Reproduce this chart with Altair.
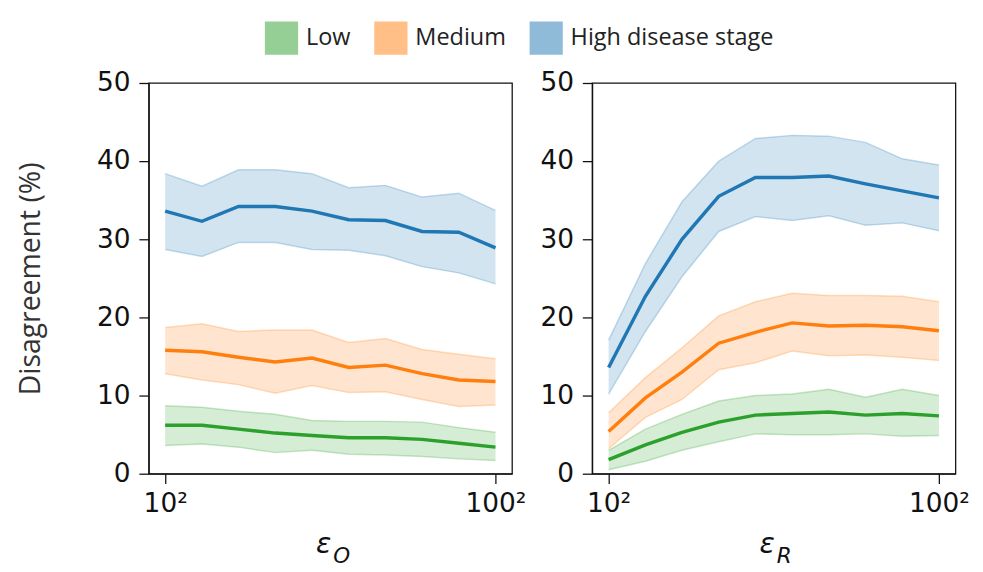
import altair as alt
import pandas as pd

# x positions (epsilon values, log-spaced from 10^2 to 100^2)
eps = [100, 167, 278, 464, 774, 1292, 2154, 3594, 5995, 10000]
stages = ["Low", "Medium", "High disease stage"]
colors = ["#2ca02c", "#ff7f0e", "#1f77b4"]

# Panel epsilon_O
low_mean_O = [6.2, 6.2, 5.7, 5.2, 4.9, 4.6, 4.6, 4.4, 3.9, 3.4]
low_lo_O = [3.6, 3.8, 3.4, 2.7, 3.0, 2.5, 2.4, 2.2, 1.9, 1.7]
low_hi_O = [8.7, 8.5, 8.0, 7.6, 6.8, 6.7, 6.7, 6.6, 5.9, 5.3]
med_mean_O = [15.8, 15.6, 14.9, 14.3, 14.8, 13.6, 13.9, 12.8, 12.0, 11.8]
med_lo_O = [12.8, 12.0, 11.4, 10.3, 11.3, 10.4, 10.5, 9.5, 8.6, 8.8]
med_hi_O = [18.7, 19.2, 18.2, 18.4, 18.4, 16.8, 17.3, 15.9, 15.3, 14.7]
high_mean_O = [33.6, 32.3, 34.2, 34.2, 33.6, 32.5, 32.4, 31.0, 30.9, 28.9]
high_lo_O = [28.7, 27.8, 29.6, 29.6, 28.7, 28.6, 27.9, 26.5, 25.7, 24.3]
high_hi_O = [38.4, 36.8, 38.9, 38.9, 38.4, 36.6, 36.9, 35.4, 35.9, 33.7]

# Panel epsilon_R
low_mean_R = [1.8, 3.7, 5.3, 6.6, 7.5, 7.7, 7.9, 7.5, 7.7, 7.4]
low_lo_R = [0.5, 1.6, 3.0, 4.1, 5.1, 5.0, 5.0, 5.1, 4.8, 4.9]
low_hi_R = [3.0, 5.7, 7.6, 9.3, 10.0, 10.2, 10.8, 9.8, 10.8, 10.0]
med_mean_R = [5.4, 9.7, 13.0, 16.7, 18.1, 19.3, 18.9, 19.0, 18.8, 18.3]
med_lo_R = [3.2, 7.2, 9.5, 13.3, 14.2, 15.7, 15.1, 15.2, 14.9, 14.5]
med_hi_R = [7.8, 12.3, 16.1, 20.2, 22.0, 23.1, 22.8, 22.8, 22.7, 22.0]
high_mean_R = [13.6, 22.7, 30.0, 35.5, 37.9, 37.9, 38.1, 37.1, 36.2, 35.3]
high_lo_R = [10.2, 18.2, 25.2, 31.0, 32.9, 32.4, 33.0, 31.8, 32.1, 31.1]
high_hi_R = [17.1, 26.9, 34.8, 40.0, 42.9, 43.3, 43.2, 42.4, 40.3, 39.5]

x_tick_values = [100, 10000]
x_tick_labels = ["10²", "100²"]
y_ticks = [0, 10, 20, 30, 40, 50]


def frame(series):
    rows = []
    for stage, (m, lo, hi) in zip(stages, series):
        for x, a, b, c in zip(eps, m, lo, hi):
            rows.append({"eps": x, "stage": stage, "mean": a, "lo": b, "hi": c})
    return pd.DataFrame(rows)


df_O = frame([(low_mean_O, low_lo_O, low_hi_O),
              (med_mean_O, med_lo_O, med_hi_O),
              (high_mean_O, high_lo_O, high_hi_O)])
df_R = frame([(low_mean_R, low_lo_R, low_hi_R),
              (med_mean_R, med_lo_R, med_hi_R),
              (high_mean_R, high_lo_R, high_hi_R)])

W, H = 372, 400
label_expr = "datum.value == 100 ? '%s' : '%s'" % (x_tick_labels[0], x_tick_labels[1])


def panel(df, sub, show_title):
    xenc = alt.X("eps:Q", scale=alt.Scale(type="log", domain=[10 ** 1.9, 10 ** 4.1], nice=False),
                 axis=alt.Axis(values=x_tick_values, labelExpr=label_expr, title=None,
                               grid=False, labelFontSize=27, labelPadding=8, tickSize=10))
    yaxis = alt.Axis(values=y_ticks, grid=False, labelFontSize=27, labelPadding=9, tickSize=10,
                     title="Disagreement (%)" if show_title else None,
                     titleFont="Open Sans", titleFontSize=29, titleFontWeight="normal",
                     titlePadding=52, titleColor="#333333")
    cscale = alt.Scale(domain=stages, range=colors)
    base = alt.Chart(df)
    area = base.mark_area(opacity=0.2).encode(
        x=xenc,
        y=alt.Y("lo:Q", scale=alt.Scale(domain=[0, 50]), axis=yaxis),
        y2="hi:Q",
        color=alt.Color("stage:N", scale=cscale, sort=stages,
                        legend=alt.Legend(title=None, orient="none", direction="horizontal",
                                          legendX=119, legendY=-63,
                                          symbolType="square", symbolSize=1156,
                                          symbolOpacity=0.5, symbolStrokeWidth=0,
                                          labelFont="Open Sans", labelFontSize=24,
                                          labelColor="#222222", labelOffset=8,
                                          labelLimit=0, columnPadding=24)),
        detail="stage:N",
    )
    edges = []
    for f in ["lo", "hi"]:
        edges.append(base.mark_line(strokeWidth=1.5, opacity=0.25).encode(
            x=alt.X("eps:Q"), y=alt.Y(f + ":Q"),
            stroke=alt.Stroke("stage:N", scale=cscale, legend=None),
        ))
    line = base.mark_line(strokeWidth=3.5).encode(
        x=alt.X("eps:Q"), y=alt.Y("mean:Q"),
        stroke=alt.Stroke("stage:N", scale=cscale, legend=None),
    )
    eps_txt = alt.Chart(pd.DataFrame({"t": ["ε"]})).mark_text(
        font="DejaVu Sans", fontSize=29, fontStyle="italic", align="right", baseline="alphabetic",
        color="#111111").encode(text="t:N", x=alt.value(W / 2 + 1), y=alt.value(H + 81))
    sub_txt = alt.Chart(pd.DataFrame({"t": [sub]})).mark_text(
        font="DejaVu Sans", fontSize=22, fontStyle="italic", align="left", baseline="alphabetic",
        color="#111111").encode(text="t:N", x=alt.value(W / 2 + 3), y=alt.value(H + 91))
    return alt.layer(area, *edges, line, eps_txt, sub_txt).properties(width=W, height=H)


chart = alt.hconcat(panel(df_O, "O", True), panel(df_R, "R", False), spacing=12).resolve_scale(
    stroke="shared", color="shared"
).configure_view(stroke="#111111", strokeWidth=1.3).configure_axis(
    domainColor="#111111", tickColor="#111111", labelColor="#111111",
    labelFont="DejaVu Sans", domainWidth=1.3, tickWidth=1.3
).properties(padding={"left": 8, "top": 7, "right": 5, "bottom": 5})

chart.save("out.html", embed_options={"renderer": "svg", "actions": False})
